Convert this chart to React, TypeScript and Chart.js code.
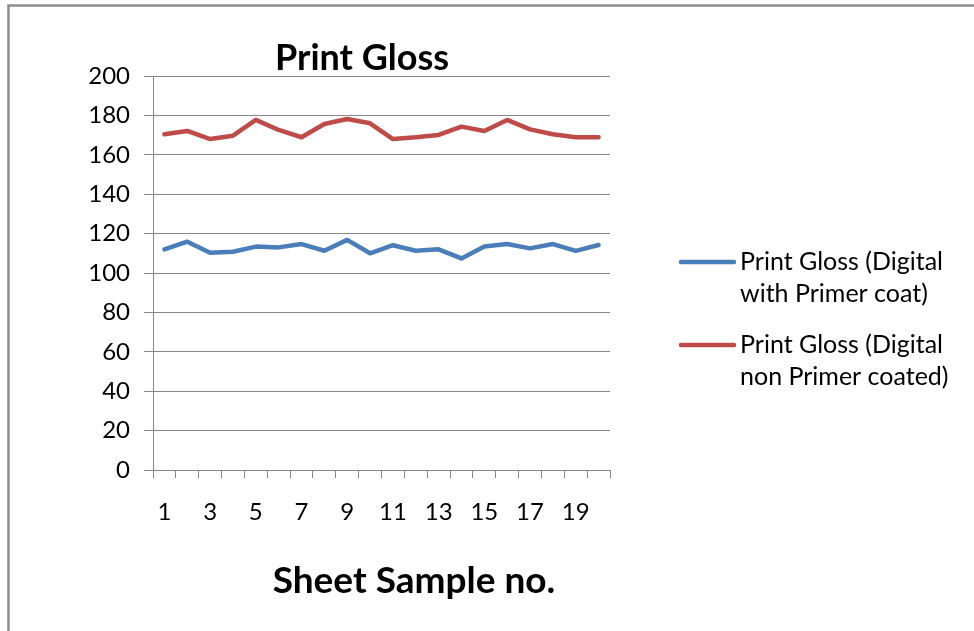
import React, { useEffect, useRef } from "react";
import { Chart, registerables } from "chart.js";

Chart.register(...registerables);

const categories = ["1","2","3","4","5","6","7","8","9","10","11","12","13","14","15","16","17","18","19","20"];
const withPrimer = [112.0,115.9,110.3,110.8,113.4,113.0,114.7,111.3,116.8,110.0,114.1,111.3,112.0,107.4,113.4,114.7,112.5,114.7,111.2,114.2];
const nonPrimer = [170.4,172.1,168.0,169.7,177.7,172.6,168.9,175.6,178.2,176.0,168.0,168.9,170.1,174.3,172.1,177.7,172.9,170.4,168.9,168.9];
const yMin = 0;
const yMax = 200;
const yStep = 20;
const chartTitle = "Print Gloss";
const xTitle = "Sheet Sample no.";
const seriesNames = [
  ["Print Gloss (Digital", "with Primer coat)"],
  ["Print Gloss (Digital", "non Primer coated)"],
];
const seriesColors = ["#4A7EBB", "#BE4B48"];

const FONT = "Lato, 'Open Sans', sans-serif";

const decorPlugin = {
  id: "decor",
  afterDraw(chart: any) {
    const ctx = chart.ctx;
    ctx.save();
    // outer frame
    ctx.strokeStyle = "#8c8c8c";
    ctx.lineWidth = 2.5;
    ctx.beginPath();
    ctx.moveTo(8.5, 640);
    ctx.lineTo(8.5, 5.5);
    ctx.lineTo(980, 5.5);
    ctx.stroke();

    ctx.fillStyle = "#000";
    ctx.textAlign = "center";
    ctx.textBaseline = "middle";
    ctx.font = `bold 36px ${FONT}`;
    ctx.fillText(chartTitle, 362, 58);
    ctx.font = `bold 37px ${FONT}`;
    ctx.fillText(xTitle, 414, 581);

    // legend
    ctx.font = `25px ${FONT}`;
    ctx.textAlign = "left";
    const tops = [262, 345];
    seriesNames.forEach((lines, i) => {
      const y = tops[i];
      ctx.strokeStyle = seriesColors[i];
      ctx.lineWidth = 4.5;
      ctx.lineCap = "round";
      ctx.beginPath();
      ctx.moveTo(681, y);
      ctx.lineTo(734, y);
      ctx.stroke();
      lines.forEach((t, j) => {
        ctx.fillText(t, 740, y + j * 32);
      });
    });
    ctx.restore();
  },
};

export default function App() {
  const ref = useRef<HTMLCanvasElement>(null);
  useEffect(() => {
    if (!ref.current) return;
    const chart = new Chart(ref.current, {
      type: "line",
      data: {
        labels: categories,
        datasets: [
          {
            label: seriesNames[0].join(" "),
            data: withPrimer,
            borderColor: seriesColors[0],
            backgroundColor: seriesColors[0],
            borderWidth: 4.5,
            pointRadius: 0,
            tension: 0,
            borderJoinStyle: "round",
            borderCapStyle: "round",
          },
          {
            label: seriesNames[1].join(" "),
            data: nonPrimer,
            borderColor: seriesColors[1],
            backgroundColor: seriesColors[1],
            borderWidth: 4.5,
            pointRadius: 0,
            tension: 0,
            borderJoinStyle: "round",
            borderCapStyle: "round",
          },
        ],
      },
      options: {
        responsive: false,
        animation: false,
        layout: { padding: { left: 0, right: 364, top: 76, bottom: 0 } },
        plugins: {
          legend: { display: false },
          title: { display: false },
          tooltip: { enabled: false },
        },
        scales: {
          x: {
            type: "category",
            offset: true,
            grid: {
              offset: true,
              drawOnChartArea: false,
              drawTicks: true,
              tickLength: 8,
              color: "#888",
            },
            border: { color: "#888", width: 1 },
            ticks: {
              autoSkip: false,
              maxRotation: 0,
              padding: 20,
              color: "#000",
              font: { family: FONT, size: 24 },
              callback: (_v: any, i: number) => (i % 2 === 0 ? categories[i] : ""),
            },
            afterFit: (s: any) => {
              s.height = 161;
            },
          },
          y: {
            min: yMin,
            max: yMax,
            grid: { color: "#888", tickLength: 9 },
            border: { color: "#888", width: 1 },
            ticks: {
              stepSize: yStep,
              padding: 14,
              color: "#000",
              font: { family: FONT, size: 24 },
            },
            afterFit: (s: any) => {
              s.width = 153;
            },
          },
        },
      },
      plugins: [decorPlugin],
    });
    return () => chart.destroy();
  }, []);
  return (
    <div style={{ position: "absolute", left: 0, top: 0, width: 974, height: 631, background: "#fff" }}>
      <canvas ref={ref} width={974} height={631} />
    </div>
  );
}
